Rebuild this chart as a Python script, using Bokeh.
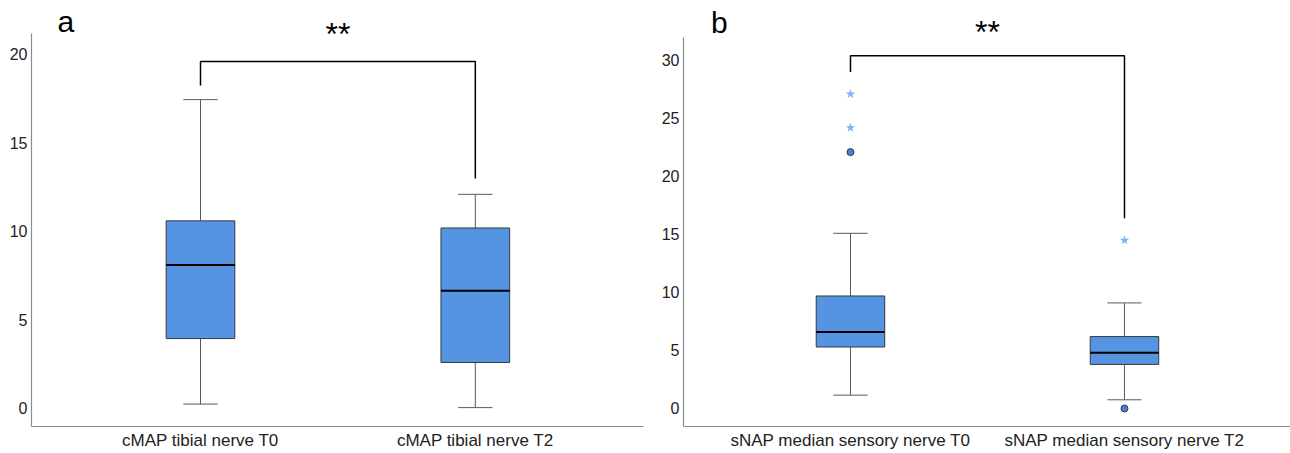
from bokeh.plotting import figure
from bokeh.layouts import row
from bokeh.models import FixedTicker, Label, Range1d
from bokeh.embed import file_html
from bokeh.resources import INLINE

# ---------------- data ----------------
cats_a = ["cMAP tibial nerve T0", "cMAP tibial nerve T2"]
low_a = [0.25, 0.05]
q1_a = [3.95, 2.6]
med_a = [8.1, 6.65]
q3_a = [10.6, 10.2]
high_a = [17.45, 12.1]
bracket_a = [18.25, 19.6, 13.0]          # left end, top, right end
yticks_a = [0, 5, 10, 15, 20]

cats_b = ["sNAP median sensory nerve T0", "sNAP median sensory nerve T2"]
low_b = [1.15, 0.75]
q1_b = [5.3, 3.8]
med_b = [6.6, 4.8]
q3_b = [9.7, 6.2]
high_b = [15.1, 9.1]
circ_cat_b = [cats_b[0], cats_b[1]]
circ_val_b = [22.1, 0.0]
star_cat_b = [cats_b[0], cats_b[0], cats_b[1]]
star_val_b = [27.1, 24.2, 14.5]
bracket_b = [29.0, 30.4, 16.4]
yticks_b = [0, 5, 10, 15, 20, 25, 30]

FONT = "Liberation Sans"
BOX_FILL = "#5594e2"
BOX_LINE = "#3a3a3a"
WHISK = "#5a5a5a"
AXIS = "#8c8c8c"


def panel(cats, low, q1, med, q3, high, bracket, yticks, xr, yr, ybound_top,
          frame_w, min_left, min_right,
          letter, letter_xy, sig_y,
          circ_cat=(), circ_val=(), star_cat=(), star_val=()):
    p = figure(frame_width=frame_w, frame_height=426, output_backend="svg",
               toolbar_location=None, x_range=Range1d(*xr), y_range=Range1d(*yr),
               min_border_left=min_left, min_border_top=0,
               min_border_right=min_right, min_border_bottom=27)
    p.outline_line_color = None
    p.xgrid.visible = False
    p.ygrid.visible = False
    p.background_fill_color = "white"
    p.border_fill_color = "white"

    xs = [i + 1 for i in range(len(cats))]
    bw = 0.25
    cw = 0.125

    # whiskers
    p.segment(x0=xs, y0=low, x1=xs, y1=q1, line_color=WHISK, line_width=1)
    p.segment(x0=xs, y0=q3, x1=xs, y1=high, line_color=WHISK, line_width=1)
    p.segment(x0=[x - cw / 2 for x in xs], y0=low, x1=[x + cw / 2 for x in xs], y1=low,
              line_color=WHISK, line_width=1)
    p.segment(x0=[x - cw / 2 for x in xs], y0=high, x1=[x + cw / 2 for x in xs], y1=high,
              line_color=WHISK, line_width=1)
    # boxes
    p.vbar(x=xs, width=bw, bottom=q1, top=q3, fill_color=BOX_FILL,
           line_color=BOX_LINE, line_width=1)
    # medians
    p.segment(x0=[x - bw / 2 for x in xs], y0=med, x1=[x + bw / 2 for x in xs], y1=med,
              line_color="black", line_width=2)

    # outliers
    if circ_cat:
        p.scatter(x=[cats.index(c) + 1 for c in circ_cat], y=list(circ_val),
                  marker="circle", size=7, fill_color="#4d7fcc", line_color="#2e3a55",
                  line_width=1)
    if star_cat:
        p.scatter(x=[cats.index(c) + 1 for c in star_cat], y=list(star_val),
                  marker="star", size=10, fill_color="#80b2f2", line_color=None)

    # significance bracket
    p.line(x=[xs[0], xs[0], xs[1], xs[1]],
           y=[bracket[0], bracket[1], bracket[1], bracket[2]],
           line_color="black", line_width=1.5)
    p.add_layout(Label(x=(xs[0] + xs[1]) / 2, y=sig_y, text="**",
                       text_font=FONT, text_font_size="32px",
                       text_align="center", text_baseline="alphabetic",
                       text_color="black"))
    p.add_layout(Label(x=letter_xy[0], y=letter_xy[1], text=letter,
                       text_font=FONT, text_font_size="30px",
                       text_align="left", text_baseline="alphabetic",
                       text_color="black"))

    # axes
    p.xaxis.ticker = FixedTicker(ticks=xs)
    p.xaxis.major_label_overrides = {x: c for x, c in zip(xs, cats)}
    p.yaxis.ticker = FixedTicker(ticks=yticks)
    p.yaxis.bounds = (yr[0], ybound_top)
    for ax in (p.xaxis[0], p.yaxis[0]):
        ax.axis_line_color = AXIS
        ax.axis_line_width = 1.2
        ax.major_tick_line_color = None
        ax.minor_tick_line_color = None
        ax.major_tick_out = 0
        ax.major_tick_in = 0
        ax.minor_tick_out = 0
        ax.minor_tick_in = 0
        ax.major_label_text_font = FONT
        ax.major_label_text_color = "#222222"
    p.xaxis.major_label_text_font_size = "17px"
    p.xaxis.major_label_standoff = 4
    p.yaxis.major_label_text_font_size = "16px"
    p.yaxis.major_label_standoff = 4
    return p


pa = panel(cats_a, low_a, q1_a, med_a, q3_a, high_a, bracket_a, yticks_a,
           xr=(0.385, 2.612), yr=(-1.017, 23.05), ybound_top=21.19,
           frame_w=612, min_left=31, min_right=2,
           letter="a", letter_xy=(0.48, 21.87), sig_y=21.13)

pb = panel(cats_b, low_b, q1_b, med_b, q3_b, high_b, bracket_b, yticks_b,
           xr=(0.3906, 2.6059), yr=(-1.552, 35.17), ybound_top=31.98,
           frame_w=607, min_left=38, min_right=0,
           letter="b", letter_xy=(0.491, 33.28), sig_y=32.48,
           circ_cat=circ_cat_b, circ_val=circ_val_b,
           star_cat=star_cat_b, star_val=star_val_b)

layout = row(pa, pb, spacing=0)
open("out.html", "w").write(file_html(layout, INLINE))
